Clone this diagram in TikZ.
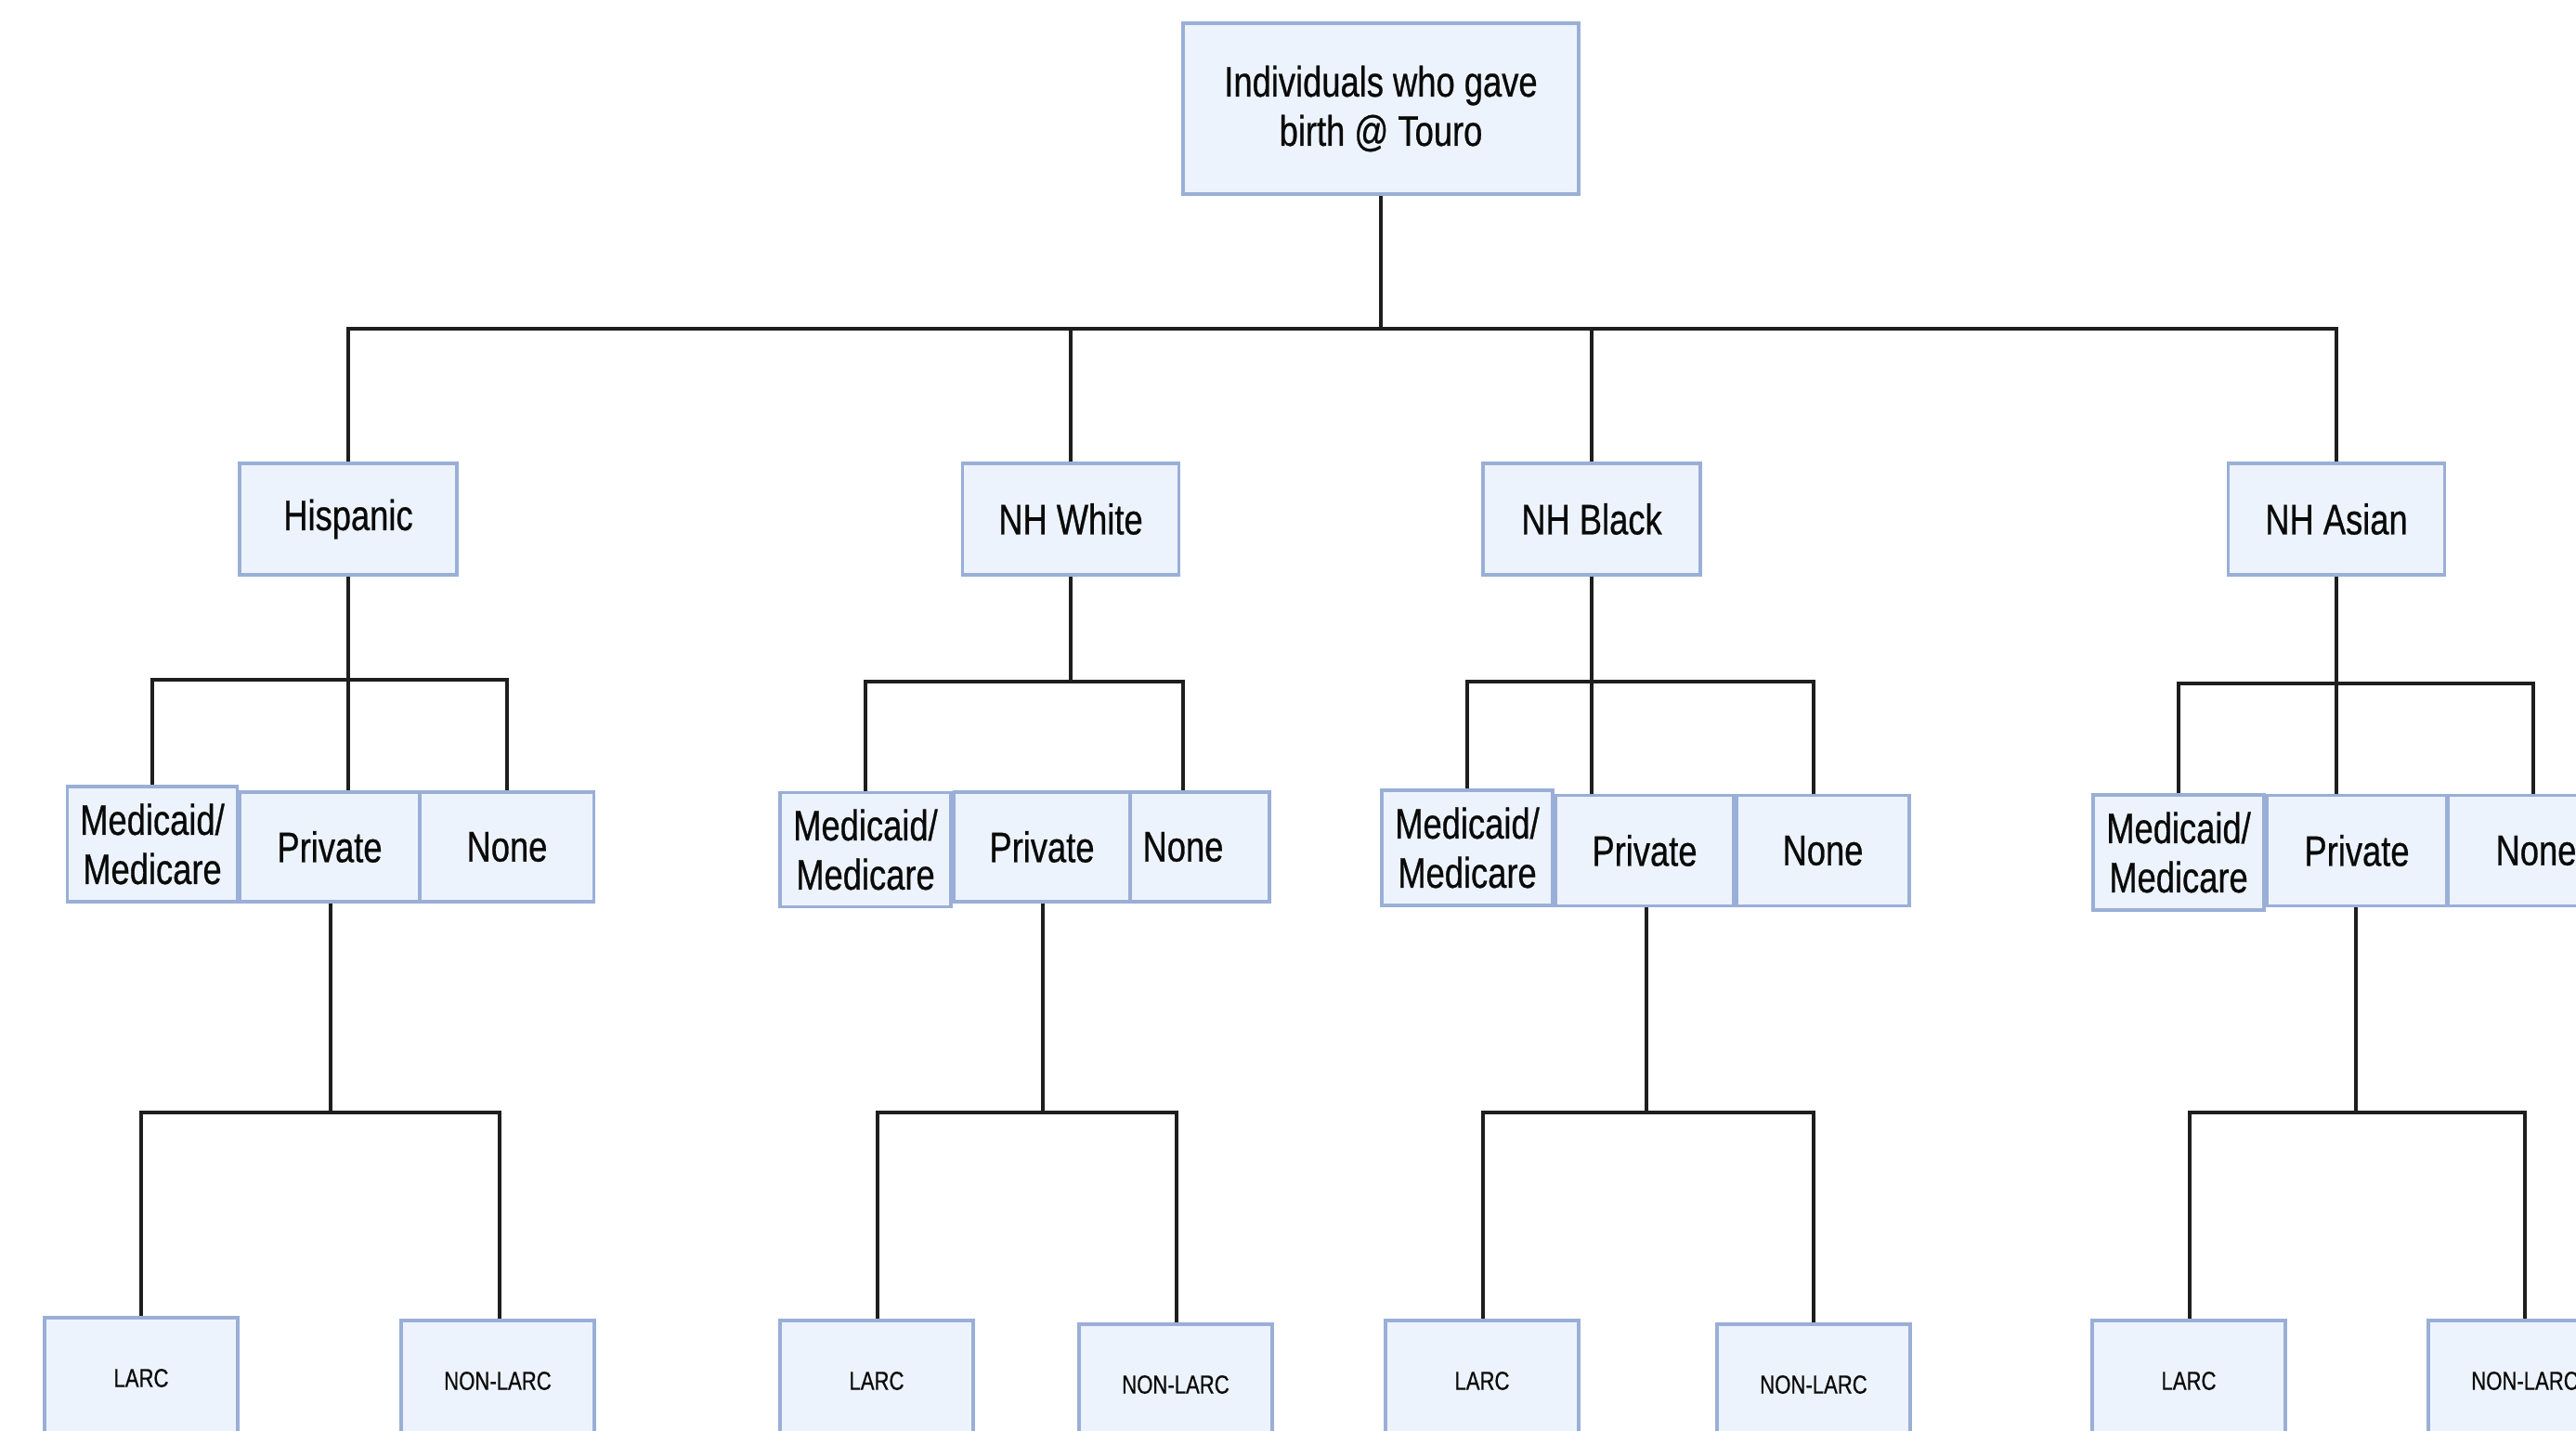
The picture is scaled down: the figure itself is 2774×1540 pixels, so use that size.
\documentclass[tikz,border=0pt]{standalone}
\usepackage{fontspec}
\setmainfont{Liberation Sans}[FakeStretch=0.79,FakeBold=0.6]
\definecolor{fillc}{HTML}{EDF3FC}
\definecolor{bordc}{HTML}{9AAFD7}
\definecolor{linec}{HTML}{1E1E1E}
\definecolor{textc}{HTML}{0A0A0A}
\begin{document}
\begin{tikzpicture}[x=1pt,y=-1pt,
  box/.style={draw=bordc, fill=fillc, line width=3.5pt, inner sep=0pt, align=center,
    text=textc, font=\fontsize{46}{53}\selectfont},
  lthree/.style={box, minimum height=118pt},
  lfour/.style={box, minimum width=208pt, minimum height=130pt, font=\fontsize{28}{33}\selectfont},
  conn/.style={line width=3.5pt, draw=linec}]
\useasboundingbox (0,0) rectangle (2774,1540);
\fill[white] (0,0) rectangle (2774,1540);

% coordinates of the buses
\coordinate (b0) at (0,354);
\coordinate (bh) at (0,732);
\coordinate (bw) at (0,734);

% level 1 and 2
\node[box, minimum width=426pt, minimum height=184pt] (root) at (1487,117) {Individuals who gave\\birth @ Touro};
\node[box, minimum width=234pt, minimum height=120pt] (hisp) at (375,559) {Hispanic};
\node[box, minimum width=233pt, minimum height=120pt] (white) at (1153,559) {NH White};
\node[box, minimum width=234pt, minimum height=120pt] (black) at (1714,559) {NH Black};
\node[box, minimum width=233pt, minimum height=120pt] (asian) at (2516,559) {NH Asian};

% connectors
\draw[conn] (root.south) -- (root.south |- b0);
\draw[conn] (hisp.north) |- (asian.north |- b0) -- (asian.north);
\draw[conn] (white.north) -- (white.north |- b0);
\draw[conn] (black.north) -- (black.north |- b0);

\draw[conn] (hisp.south) -- (hisp.south |- bh);
\draw[conn] (164,853) |- (546,732) -- (546,853);
\draw[conn] (hisp.south |- bh) -- (hisp.south |- 0,853);

\draw[conn] (white.south) -- (white.south |- bw);
\draw[conn] (932,853) |- (1274,734) -- (1274,853);

\draw[conn] (black.south) -- (black.south |- 0,856);
\draw[conn] (1580,853) |- (1953,734) -- (1953,862);

\draw[conn] (asian.south) -- (asian.south |- 0,856);
\draw[conn] (2346,856) |- (2728,736) -- (2728,856);

% level 4 connectors
\draw[conn] (356,971) -- (356,1198);
\draw[conn] (152,1420) |- (538,1198) -- (538,1426);
\draw[conn] (1123,971) -- (1123,1198);
\draw[conn] (945,1422) |- (1267,1198) -- (1267,1426);
\draw[conn] (1773,975) -- (1773,1198);
\draw[conn] (1597,1422) |- (1953,1198) -- (1953,1426);
\draw[conn] (2537,975) -- (2537,1198);
\draw[conn] (2358,1422) |- (2719,1198) -- (2719,1422);

% level 3
\node[lthree, minimum width=183pt, minimum height=124pt] (hmed) at (164,909) {Medicaid/\\Medicare};
\node[lthree, minimum width=193pt] (hpriv) at (355,912) {Private};
\node[lthree, minimum width=187pt] (hnone) at (546,912) {None};
\node[lthree, minimum width=184pt, minimum height=123pt] (wmed) at (932,915) {Medicaid/\\Medicare};
\node[lthree, minimum width=189pt] (wpriv) at (1122,912) {Private};
\node[lthree, minimum width=150pt] (wnone) at (1292,912) {None\hspace*{36pt}};
\node[lthree, minimum width=184pt, minimum height=124pt] (bmed) at (1580,913) {Medicaid/\\Medicare};
\node[lthree, minimum width=191pt, minimum height=119pt] (bpriv) at (1771,916) {Private};
\node[lthree, minimum width=186pt, minimum height=119pt] (bnone) at (1963,916) {None};
\node[lthree, minimum width=184pt, minimum height=124pt] (amed) at (2346,918) {Medicaid/\\Medicare};
\node[lthree, minimum width=193pt, minimum height=119pt] (apriv) at (2538,916) {Private};
\node[lthree, minimum width=190pt, minimum height=119pt] (anone) at (2731,916) {None};

% drop from NH Black that runs into the Private box
\draw[conn] (black.south) -- (black.south |- bpriv.north);

% level 4
\node[lfour] (hl) at (152,1484) {LARC};
\node[lfour] (hn) at (536,1487) {NON-LARC};
\node[lfour] (wl) at (944,1487) {LARC};
\node[lfour] (wn) at (1266,1491) {NON-LARC};
\node[lfour] (bl) at (1596,1487) {LARC};
\node[lfour] (bn) at (1953,1491) {NON-LARC};
\node[lfour] (al) at (2357,1487) {LARC};
\node[lfour] (an) at (2719,1487) {NON-LARC};
\end{tikzpicture}
\end{document}
